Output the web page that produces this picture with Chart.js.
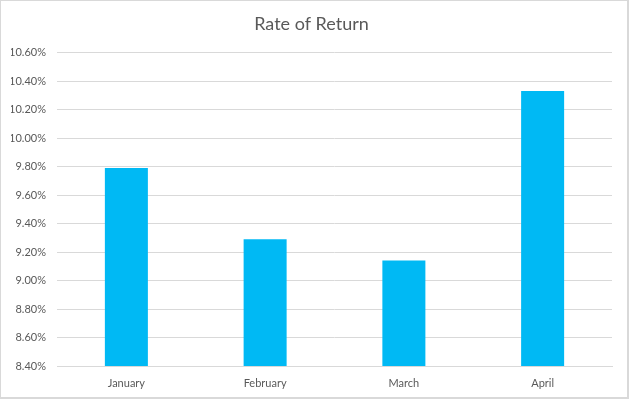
<!DOCTYPE html>
<html>
<head>
<meta charset="utf-8">
<script src="https://cdn.jsdelivr.net/npm/chart.js@4"></script>
<style>
  body { margin: 0; background: #fff; }
  #wrap {
    width: 629px;
    height: 399px;
    box-sizing: border-box;
    border: 1px solid #d9d9d9;
    border-right-width: 2px;
    border-bottom-width: 2px;
  }
  canvas { display: block; }
</style>
</head>
<body>
<div id="wrap"><canvas id="canvas" width="626" height="396"></canvas></div>
<script>
  const months = ['January', 'February', 'March', 'April'];
  const rateOfReturn = [9.79, 9.29, 9.14, 10.33];
  const yMin = 8.4;
  const yMax = 10.6;
  const yStep = 0.2;

  const textColor = '#595959';
  const gridColor = '#d9d9d9';

  const config = {
    type: 'bar',
    data: {
      labels: months,
      datasets: [
        {
          label: 'Rate of Return',
          data: rateOfReturn,
          backgroundColor: '#00B9F4',
          barPercentage: 0.31,
          categoryPercentage: 1,
        },
      ],
    },
    options: {
      responsive: false,
      animation: false,
      layout: {
        padding: {left: 10, right: 15, top: 0, bottom: 7},
      },
      plugins: {
        legend: {display: false},
        tooltip: {enabled: false},
        title: {
          display: true,
          text: 'Rate of Return',
          color: textColor,
          font: {family: 'Lato', size: 18, weight: 'normal'},
          padding: {top: 12, bottom: 18},
        },
      },
      scales: {
        x: {
          grid: {display: false, drawTicks: false},
          border: {color: gridColor},
          ticks: {
            color: textColor,
            font: {family: 'Lato', size: 11},
            padding: 11,
          },
          afterFit: scale => {
            scale.height = 24;
          },
        },
        y: {
          min: yMin,
          max: yMax,
          border: {display: false},
          grid: {color: gridColor, drawTicks: false},
          ticks: {
            stepSize: yStep,
            color: textColor,
            font: {family: 'Lato', size: 11},
            padding: 11,
            callback: value => value.toFixed(2) + '%',
          },
          afterFit: scale => {
            scale.width = 46;
          },
        },
      },
    },
  };

  document.addEventListener('DOMContentLoaded', () => {
    const context = document.getElementById('canvas').getContext('2d');
    new Chart(context, config);
  });
</script>
</body>
</html>
